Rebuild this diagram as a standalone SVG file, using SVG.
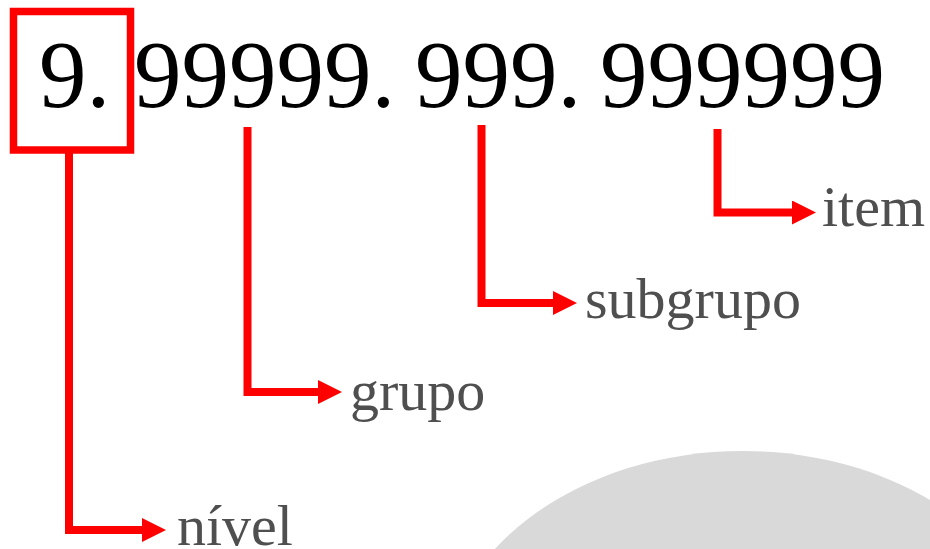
<svg xmlns="http://www.w3.org/2000/svg" width="930" height="549" viewBox="0 0 930 549">
  <style>
    .code { font-family: "Liberation Serif", "Times New Roman", serif; font-size: 95px; fill: #000; }
    .label { font-family: "Liberation Serif", "Times New Roman", serif; font-size: 58px; fill: #4f4f4f; }
    .link { fill: none; stroke: #ff0000; stroke-width: 8; stroke-linejoin: miter; stroke-linecap: butt; }
  </style>
  <defs>
    <marker id="arrow" viewBox="0 0 24 24" markerWidth="24" markerHeight="24" refX="0" refY="12" markerUnits="userSpaceOnUse" orient="auto">
      <polygon points="0,0 24,12 0,24" fill="#ff0000"/>
    </marker>
  </defs>

  <!-- background blob, lower right -->
  <ellipse cx="743" cy="679" rx="302" ry="228" fill="#d9d9d9"/>

  <!-- code mask -->
  <g id="code">
    <text class="code" x="39" y="107">9.</text>
    <text class="code" x="134" y="107">99999.</text>
    <text class="code" x="415" y="107">999.</text>
    <text class="code" x="600" y="107">999999</text>
  </g>

  <!-- highlight box around the level digit -->
  <g id="nivel-box">
    <rect x="13.5" y="11.5" width="117" height="138.5" fill="none" stroke="#ff0000" stroke-width="7.5"/>
  </g>

  <!-- connectors -->
  <g id="connectors">
    <path class="link" d="M69 150 V530 H142" marker-end="url(#arrow)"/>
    <path class="link" d="M247.5 127 V392 H318" marker-end="url(#arrow)"/>
    <path class="link" d="M481.5 125 V303 H553" marker-end="url(#arrow)"/>
    <path class="link" d="M717.5 129 V212.5 H792" marker-end="url(#arrow)"/>
  </g>

  <!-- labels -->
  <g id="nivel"><text class="label" x="177" y="545">nível</text></g>
  <g id="grupo"><text class="label" x="350" y="410">grupo</text></g>
  <g id="subgrupo"><text class="label" x="585" y="318">subgrupo</text></g>
  <g id="item"><text class="label" x="822" y="226">item</text></g>
</svg>
